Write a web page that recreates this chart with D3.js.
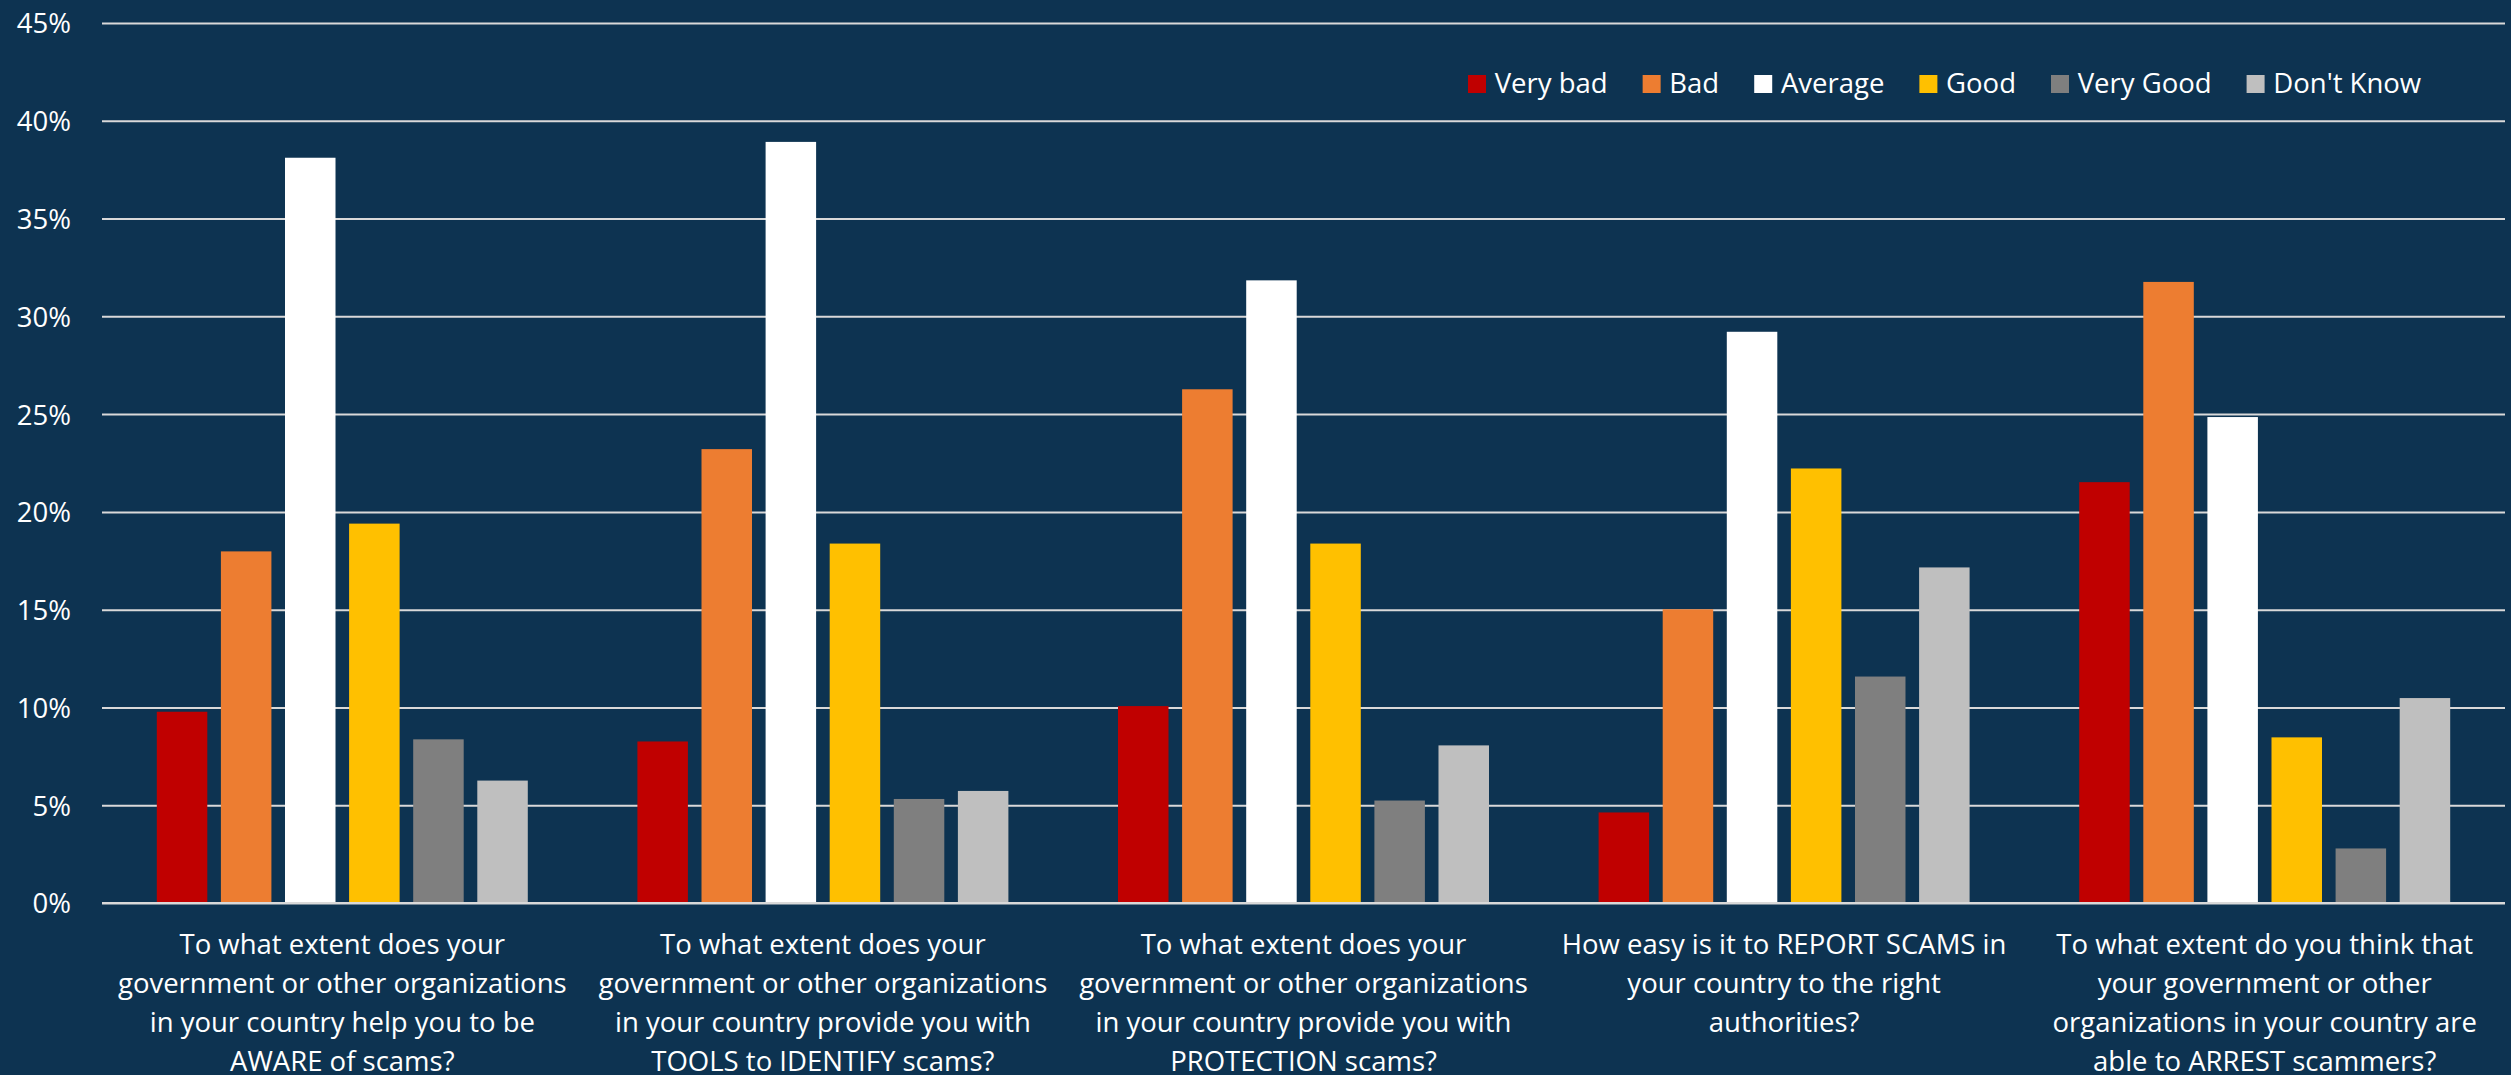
<!DOCTYPE html>
<html>
<head>
<meta charset="utf-8">
<script src="https://cdn.jsdelivr.net/npm/d3@7"></script>
<style>
  html, body { margin: 0; padding: 0; background: #0D3351; }
  svg { display: block; }
  text { font-family: "Open Sans", "Noto Sans", sans-serif; fill: #FFFFFF; }
</style>
</head>
<body>
<svg id="chart" width="2511" height="1075"></svg>
<script>
// Survey questions (one multi-line label each)
const questions = [
  ["To what extent does your", "government or other organizations", "in your country help you to be", "AWARE of scams?"],
  ["To what extent does your", "government or other organizations", "in your country provide you with", "TOOLS to IDENTIFY scams?"],
  ["To what extent does your", "government or other organizations", "in your country provide you with", "PROTECTION scams?"],
  ["How easy is it to REPORT SCAMS in", "your country to the right", "authorities?"],
  ["To what extent do you think that", "your government or other", "organizations in your country are", "able to ARREST scammers?"]
];

// Answer options and their colours
const ratings = ["Very bad", "Bad", "Average", "Good", "Very Good", "Don't Know"];
const ratingColors = ["#C00000", "#ED7D31", "#FFFFFF", "#FFC000", "#7F7F7F", "#BFBFBF"];

// Share of respondents (%) per answer, one value per question
const veryBad  = [9.78, 8.26, 10.07, 4.63, 21.52];
const bad      = [17.98, 23.21, 26.27, 15.02, 31.76];
const average  = [38.11, 38.92, 31.84, 29.21, 24.85];
const good     = [19.40, 18.38, 18.38, 22.22, 8.47];
const veryGood = [8.37, 5.32, 5.24, 11.58, 2.79];
const dontKnow = [6.26, 5.73, 8.06, 17.16, 10.48];
const seriesValues = [veryBad, bad, average, good, veryGood, dontKnow];

// Value axis ticks (%)
const yTicks = [0, 5, 10, 15, 20, 25, 30, 35, 40, 45];

const svg = d3.select("#chart");
const margin = { left: 102, right: 6, top: 23, bottom: 172 };
const W = 2511, H = 1075;
const plotW = W - margin.left - margin.right;

const x0 = d3.scaleBand()
  .domain(d3.range(questions.length))
  .range([margin.left, W - margin.right])
  .paddingInner(0).paddingOuter(0);

const x1 = d3.scaleBand()
  .domain(d3.range(ratings.length))
  .range([0, x0.bandwidth()])
  .paddingInner(0.212).paddingOuter(0.855);

const y = d3.scaleLinear()
  .domain([0, 45])
  .range([H - margin.bottom, margin.top]);

// Gridlines and percentage labels
const yAxis = svg.append("g")
  .attr("transform", `translate(${margin.left},0)`)
  .call(d3.axisLeft(y)
    .tickValues(yTicks)
    .tickSize(-plotW)
    .tickPadding(31)
    .tickFormat(d => d + "%"));
yAxis.select(".domain").remove();
yAxis.selectAll(".tick line")
  .attr("stroke", "#D9D9D9")
  .attr("stroke-width", 2);
yAxis.selectAll(".tick text")
  .attr("fill", "#FFFFFF")
  .style("font-size", "27.5px")
  .style("font-family", "'Open Sans', 'Noto Sans', sans-serif")
  .attr("dy", "0.36em");

// Bars
const groups = svg.append("g")
  .selectAll("g")
  .data(questions.map((q, i) => i))
  .join("g")
  .attr("transform", i => `translate(${x0(i)},0)`);

groups.selectAll("rect")
  .data(i => seriesValues.map((vals, s) => ({ s, v: vals[i] })))
  .join("rect")
  .attr("x", d => x1(d.s))
  .attr("width", x1.bandwidth())
  .attr("y", d => y(d.v))
  .attr("height", d => y(0) - y(d.v))
  .attr("fill", d => ratingColors[d.s]);

// Redraw the baseline on top of the bars
svg.append("line")
  .attr("x1", margin.left).attr("x2", W - margin.right)
  .attr("y1", y(0)).attr("y2", y(0))
  .attr("stroke", "#D9D9D9").attr("stroke-width", 2);

// Category labels
const labelTop = y(0) + 51;
const lineGap = 39;
svg.append("g")
  .selectAll("text")
  .data(questions)
  .join("text")
  .attr("text-anchor", "middle")
  .style("font-size", "27.5px")
  .attr("transform", (q, i) => `translate(${x0(i) + x0.bandwidth() / 2},${labelTop})`)
  .selectAll("tspan")
  .data(q => q)
  .join("tspan")
  .attr("x", 0)
  .attr("y", (d, j) => j * lineGap)
  .text(d => d);

// Legend
const legend = svg.append("g").attr("transform", "translate(1468,75)");
let lx = 0;
ratings.forEach((r, i) => {
  const item = legend.append("g").attr("transform", `translate(${lx},0)`);
  item.append("rect")
    .attr("width", 18).attr("height", 18)
    .attr("fill", ratingColors[i]);
  const t = item.append("text")
    .attr("x", 26.7).attr("y", 18.3)
    .style("font-size", "27.5px")
    .text(r);
  lx += 26.7 + t.node().getComputedTextLength() + 35;
});
</script>
</body>
</html>
